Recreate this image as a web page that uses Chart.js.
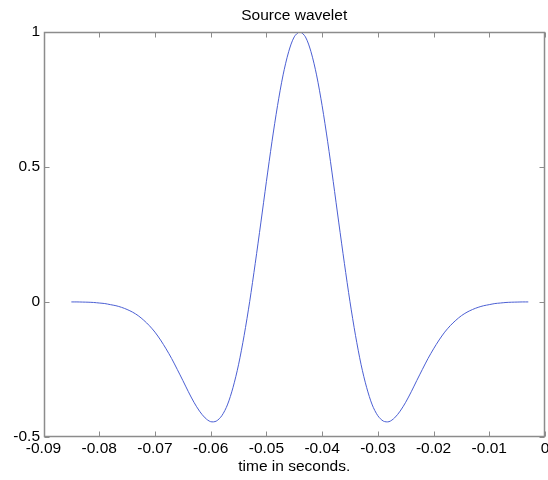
<!DOCTYPE html>
<html>
<head>
<meta charset="utf-8">
<title>Source wavelet</title>
<script src="https://cdn.jsdelivr.net/npm/chart.js@4.4.1/dist/chart.umd.min.js"></script>
<style>
  html, body { margin: 0; padding: 0; background: #fff; }
  #wrap { width: 548px; height: 480px; position: relative; }
</style>
</head>
<body>
<div id="wrap"><canvas id="waveChart"></canvas></div>
<script>
// time samples (s)
const timeValues = [
  -0.085, -0.084, -0.083, -0.082, -0.081, -0.08, -0.079, -0.078, -0.077, -0.076,
  -0.075, -0.074, -0.073, -0.072, -0.071, -0.07, -0.069, -0.068, -0.067, -0.066,
  -0.065, -0.064, -0.063, -0.062, -0.061, -0.06, -0.059, -0.058, -0.057, -0.056,
  -0.055, -0.054, -0.053, -0.052, -0.051, -0.05, -0.049, -0.048, -0.047, -0.046,
  -0.045, -0.044, -0.043, -0.042, -0.041, -0.04, -0.039, -0.038, -0.037, -0.036,
  -0.035, -0.034, -0.033, -0.032, -0.031, -0.03, -0.029, -0.028, -0.027, -0.026,
  -0.025, -0.024, -0.023, -0.022, -0.021, -0.02, -0.019, -0.018, -0.017, -0.016,
  -0.015, -0.014, -0.013, -0.012, -0.011, -0.01, -0.009, -0.008, -0.007, -0.006,
  -0.005, -0.004, -0.003
];
// wavelet amplitude
const waveValues = [
  -0.001, -0.001, -0.0015, -0.002, -0.003, -0.005, -0.007, -0.011, -0.015, -0.021,
  -0.029, -0.039, -0.052, -0.069, -0.089, -0.113, -0.142, -0.175, -0.211, -0.251,
  -0.292, -0.334, -0.373, -0.406, -0.431, -0.445, -0.443, -0.423, -0.383, -0.319,
  -0.234, -0.126, 0.0, 0.142, 0.292, 0.445, 0.593, 0.727, 0.841, 0.927,
  0.982, 1.0, 0.982,
  0.927, 0.841, 0.727, 0.593, 0.445, 0.292, 0.142, 0.0, -0.126, -0.234,
  -0.319, -0.383, -0.423, -0.443, -0.445, -0.431, -0.406, -0.373, -0.334, -0.292,
  -0.251, -0.211, -0.175, -0.142, -0.113, -0.089, -0.069, -0.052, -0.039, -0.029,
  -0.021, -0.015, -0.011, -0.007, -0.005, -0.003, -0.002, -0.0015, -0.001, -0.001
];
const xTicks = [-0.09, -0.08, -0.07, -0.06, -0.05, -0.04, -0.03, -0.02, -0.01, 0];
const yTicks = [-0.5, 0, 0.5, 1];

const axisColor = "#8c8c8c";
const fontSpec = { family: "'Liberation Sans', Arial, sans-serif", size: 15.5 };

// matlab-style box with inward ticks on all four sides
const boxPlugin = {
  id: "matlabBox",
  afterDraw(chart) {
    const ctx = chart.ctx;
    const a = chart.chartArea;
    const xs = chart.scales.x;
    const ys = chart.scales.y;
    const l = Math.round(a.left) + 0.5, r = Math.round(a.right) - 0.5;
    const t = Math.round(a.top) + 0.5, b = Math.round(a.bottom) - 0.5;
    const len = 5;
    ctx.save();
    ctx.strokeStyle = axisColor;
    ctx.lineWidth = 1.5;
    ctx.strokeRect(l, t, r - l, b - t);
    ctx.lineWidth = 1;
    ctx.beginPath();
    xTicks.forEach((v) => {
      const px = Math.round(xs.getPixelForValue(v)) + 0.5;
      ctx.moveTo(px, b); ctx.lineTo(px, b - len);
      ctx.moveTo(px, t); ctx.lineTo(px, t + len);
    });
    yTicks.forEach((v) => {
      const py = Math.round(ys.getPixelForValue(v)) + 0.5;
      ctx.moveTo(l, py); ctx.lineTo(l + len, py);
      ctx.moveTo(r, py); ctx.lineTo(r - len, py);
    });
    ctx.stroke();
    ctx.restore();
  },
};

function zeroPad(scale) {
  scale.paddingLeft = 0;
  scale.paddingRight = 0;
  scale.paddingTop = 0;
  scale.paddingBottom = 0;
}

function initChart() {
  const ctx = document.getElementById("waveChart").getContext("2d");
  new Chart(ctx, {
    type: "line",
    data: {
      datasets: [
        {
          data: timeValues.map((t, i) => ({ x: t, y: waveValues[i] })),
          borderColor: "#4b5fd3",
          borderWidth: 1,
          pointRadius: 0,
          tension: 0.3,
          fill: false,
        },
      ],
    },
    options: {
      responsive: true,
      maintainAspectRatio: false,
      animation: false,
      layout: { padding: { top: 0, right: 3, bottom: 0, left: 0 } },
      plugins: {
        legend: { display: false },
        tooltip: { enabled: false },
        title: { display: false },
      },
      scales: {
        x: {
          type: "linear",
          min: -0.09,
          max: 0,
          grid: { display: false, drawTicks: false },
          border: { display: false },
          afterBuildTicks(scale) {
            scale.ticks = xTicks.map((v) => ({ value: v }));
          },
          afterFit(scale) {
            scale.height = 43.5;
            zeroPad(scale);
          },
          ticks: {
            color: "#000",
            font: fontSpec,
            padding: 3,
            maxRotation: 0,
            autoSkip: false,
            callback: (v) => String(Number(v.toFixed(2))),
          },
          title: {
            display: true,
            text: "time in seconds.",
            color: "#000",
            font: fontSpec,
            padding: { top: 0, bottom: 3.7 },
          },
        },
        // top axis only carries the title, centred over the plot box
        xTop: {
          type: "linear",
          position: "top",
          min: -0.09,
          max: 0,
          grid: { display: false, drawTicks: false },
          border: { display: false },
          ticks: { display: false },
          afterFit(scale) {
            scale.height = 32;
            zeroPad(scale);
          },
          title: {
            display: true,
            text: "Source wavelet",
            color: "#000",
            font: fontSpec,
            padding: { top: 6.7, bottom: 0 },
          },
        },
        y: {
          type: "linear",
          min: -0.5,
          max: 1,
          grid: { display: false, drawTicks: false },
          border: { display: false },
          afterBuildTicks(scale) {
            scale.ticks = yTicks.map((v) => ({ value: v }));
          },
          afterFit(scale) {
            scale.width = 43.5;
            zeroPad(scale);
          },
          ticks: {
            color: "#000",
            font: fontSpec,
            padding: 3.5,
            callback: (v) => String(v),
          },
        },
      },
    },
    plugins: [boxPlugin],
  });
}

window.onload = function () {
  initChart();
};
</script>
</body>
</html>
